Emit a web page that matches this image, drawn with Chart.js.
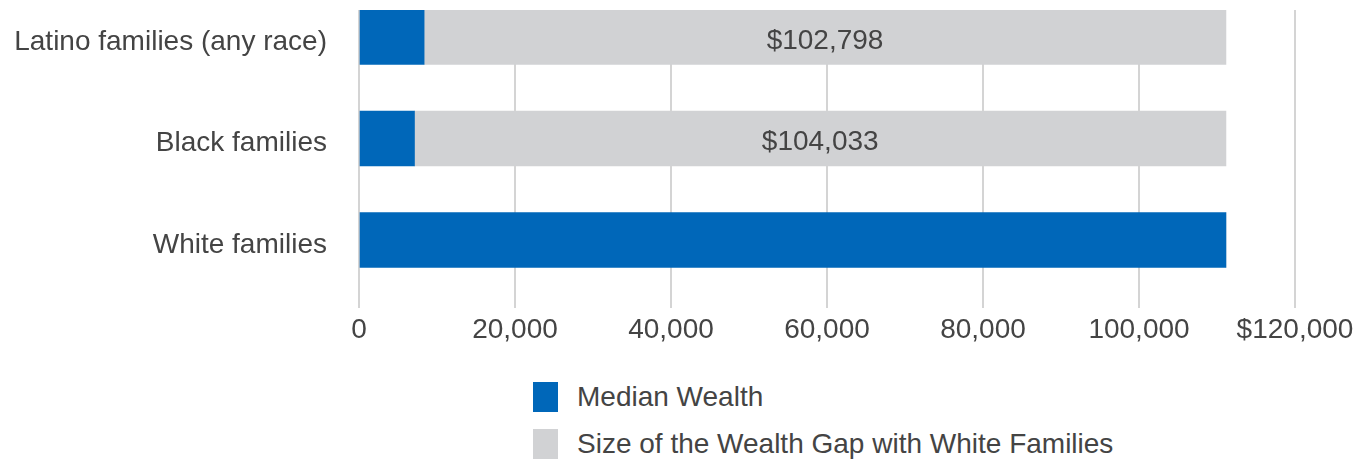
<!DOCTYPE html>
<html>
<head>
<meta charset="utf-8">
<script src="https://cdn.jsdelivr.net/npm/chart.js@4.4.1/dist/chart.umd.min.js"></script>
<style>
    html, body { margin: 0; padding: 0; background: #fff; }
    body { width: 1358px; height: 464px; position: relative; overflow: hidden; font-family: "Liberation Sans", Arial, Helvetica, sans-serif; }
    #chart-wrap { position: absolute; left: 0; top: 0; width: 1358px; height: 350px; }
    #legend { position: absolute; left: 533px; top: 381px; }
    .legend-item { display: flex; align-items: center; height: 32px; margin-bottom: 15px; color: #444; font-size: 28px; }
    .legend-box { width: 25px; height: 30px; margin-right: 19px; }
</style>
</head>
<body>
<div id="chart-wrap"><canvas id="wealthChart" width="1358" height="350"></canvas></div>
<div id="legend"></div>
<script>
// Data
const categories = ['Latino families (any race)', 'Black families', 'White families'];
const medianWealth = [8348, 7113, 111146];
const wealthGap = [102798, 104033, 0];
const xTickValues = [0, 20000, 40000, 60000, 80000, 100000, 120000];
const xTickLabels = ['0', '20,000', '40,000', '60,000', '80,000', '100,000', '$120,000'];
const seriesNames = ['Median Wealth', 'Size of the Wealth Gap with White Families'];
const seriesColors = ['#0067b9', '#d1d2d4'];

const FONT = '"Liberation Sans", Arial, Helvetica, sans-serif';
const TEXT = '#444';

// Labels inside the gray gap bars
const gapLabels = {
    id: 'gapLabels',
    afterDatasetsDraw(chart) {
        const ctx = chart.ctx;
        const meta = chart.getDatasetMeta(1);
        ctx.save();
        ctx.font = `28px ${FONT}`;
        ctx.fillStyle = TEXT;
        ctx.textAlign = 'center';
        ctx.textBaseline = 'middle';
        meta.data.forEach((bar, i) => {
            if (!wealthGap[i]) return;
            const { x, base, y } = bar.getProps(['x', 'base', 'y'], true);
            ctx.fillText('$' + wealthGap[i].toLocaleString('en-US'), (x + base) / 2, y + 4);
        });
        ctx.restore();
    }
};

const ctx = document.getElementById('wealthChart').getContext('2d');
new Chart(ctx, {
    type: 'bar',
    data: {
        datasets: [
            {
                label: seriesNames[0],
                data: medianWealth.map((v, i) => ({ x: v, y: i })),
                backgroundColor: seriesColors[0],
                barThickness: 55
            },
            {
                label: seriesNames[1],
                data: wealthGap.map((v, i) => ({ x: v, y: i })),
                backgroundColor: seriesColors[1],
                barThickness: 55
            }
        ]
    },
    options: {
        indexAxis: 'y',
        responsive: false,
        animation: false,
        layout: { padding: { top: 10, right: 63, bottom: 0, left: 0 } },
        plugins: { legend: { display: false }, tooltip: { enabled: false } },
        scales: {
            x: {
                type: 'linear',
                stacked: true,
                min: 0,
                max: 120000,
                afterBuildTicks: scale => { scale.ticks = xTickValues.map(v => ({ value: v })); },
                afterFit: scale => {
                    scale.height = 42;
                    scale.paddingLeft = 0;
                    scale.paddingRight = 0;
                },
                ticks: {
                    color: TEXT,
                    font: { family: FONT, size: 28 },
                    padding: 5,
                    maxRotation: 0,
                    callback: (v) => xTickLabels[xTickValues.indexOf(v)]
                },
                grid: { color: '#d4d4d4', lineWidth: 2, drawTicks: false },
                border: { display: false }
            },
            y: {
                type: 'linear',
                stacked: true,
                reverse: true,
                offset: false,
                min: -0.266,
                max: 2.67,
                afterBuildTicks: scale => { scale.ticks = categories.map((_, i) => ({ value: i })); },
                afterFit: scale => {
                    scale.width = 359;
                    scale.paddingTop = 0;
                    scale.paddingBottom = 0;
                },
                ticks: {
                    color: TEXT,
                    font: { family: FONT, size: 28 },
                    padding: 32,
                    labelOffset: 5,
                    callback: (v) => categories[v]
                },
                grid: { display: false, drawTicks: false },
                border: { display: false }
            }
        }
    },
    plugins: [gapLabels]
});

// HTML legend, one item per line
document.getElementById('legend').innerHTML = seriesNames.map((name, i) => `
    <div class="legend-item"><span class="legend-box" style="background:${seriesColors[i]}"></span>${name}</div>
`).join('');
</script>
</body>
</html>
